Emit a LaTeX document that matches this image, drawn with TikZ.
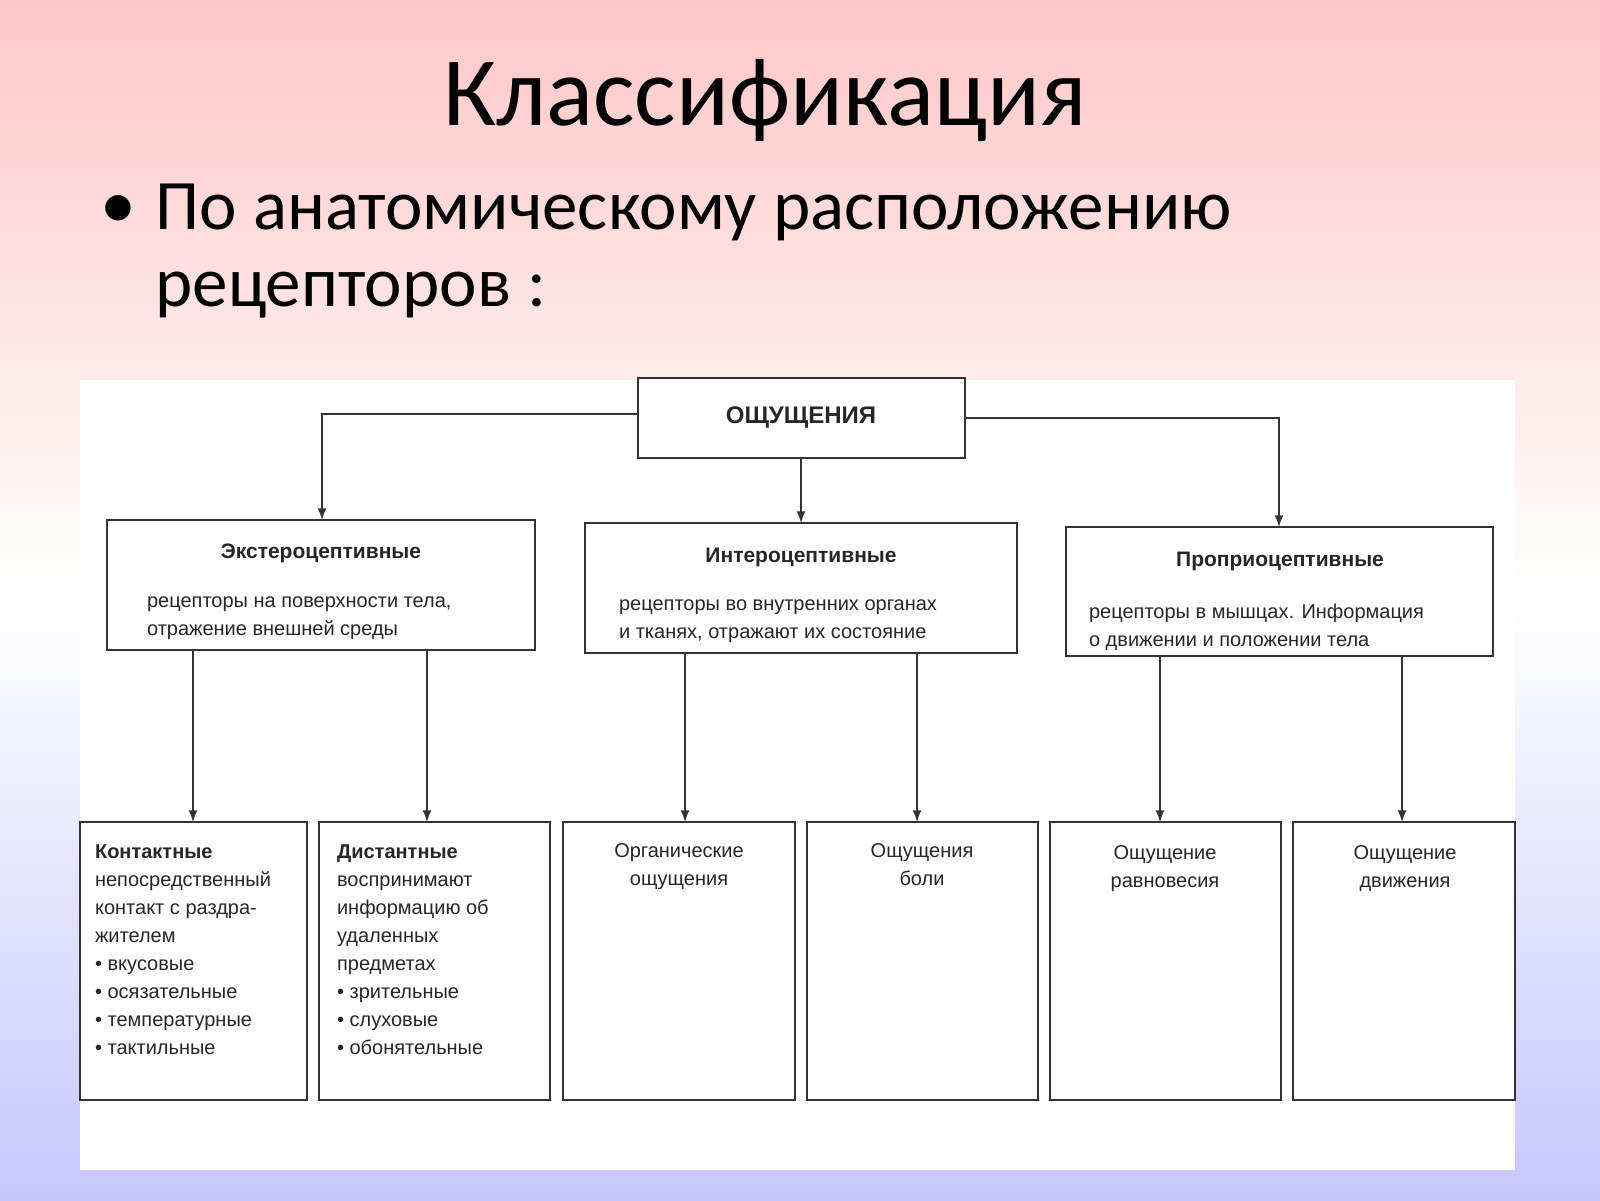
\documentclass[tikz,border=0pt]{standalone}
\usepackage{fontspec}
\setmainfont{Carlito}
\newfontfamily\dia{Liberation Sans}
\begin{document}
\begin{tikzpicture}[x=0.5pt,y=-0.5pt,
 bx/.style={draw=black!80,line width=1.2pt,fill=white},
 ar/.style={draw=black!80,line width=1pt,-latex},
 tt/.style={font=\dia\bfseries\fontsize{10.5}{13}\selectfont,text=black!85},
 tx/.style={font=\dia\fontsize{10}{14}\selectfont,text=black!85,align=left}]
\useasboundingbox (0,0) rectangle (1600,1200);
\shade[top color=red!22!white,bottom color=blue!22!white,middle color=white] (0,0) rectangle (1600,1200);
\fill[white] (80,380) rectangle (1515,1170);
\node (title) at (765,100) {\fontsize{49}{56}\selectfont Классификация};
\node (bul) at (118,212) {\fontsize{36}{40}\selectfont •};
\node[anchor=west,inner sep=0pt] (b1) at (155,212) {\fontsize{35.5}{40}\selectfont По анатомическому расположению};
\node[anchor=west,inner sep=0pt] (b2) at (155,295) {\fontsize{35.5}{40}\selectfont рецепторов :};
% top
\draw[bx] (638,378) rectangle (965,458); \node[tt,font=\dia\bfseries\fontsize{12}{14}\selectfont] (top) at (801,418) {ОЩУЩЕНИЯ};
\draw[bx] (107,520) rectangle (535,650);
\node[tt] (e) at (321,553) {Экстероцептивные};
\node[tx,anchor=north west] (et) at (140,590) {рецепторы на поверхности тела,\\отражение внешней среды};
\draw[bx] (585,523) rectangle (1017,653);
\node[tt] (i) at (801,557) {Интероцептивные};
\node[tx,anchor=north west] (it) at (612,593) {рецепторы во внутренних органах\\и тканях, отражают их состояние};
\draw[bx] (1066,527) rectangle (1493,656);
\node[tt] (p) at (1280,561) {Проприоцептивные};
\node[tx,anchor=north west] (pt) at (1082,597) {рецепторы в мышцах. Информация\\о движении и положении тела};
\coordinate (tl) at (638,414); \coordinate (tr) at (965,418);
\coordinate (c1) at (322,414); \coordinate (c2) at (1279,418);
\draw[ar] (tl) -- (c1) -- (322,520);
\draw[ar] (tr) -- (c2) -- (1279,527);
\draw[ar] (801,458) -- (801,523);
% bottom boxes
\foreach \a/\b in {80/307,319/550,563/795,807/1038,1050/1281,1293/1515}
 \draw[bx] (\a,822) rectangle (\b,1100);
\draw[ar] (193,650) -- (193,822);
\draw[ar] (427,650) -- (427,822);
\draw[ar] (685,653) -- (685,822);
\draw[ar] (917,653) -- (917,822);
\draw[ar] (1160,656) -- (1160,822);
\draw[ar] (1402,656) -- (1402,822);
\node[tx,anchor=north west] (k) at (88,838) {\textbf{Контактные}\\непосредственный\\контакт с раздра-\\жителем\\• вкусовые\\• осязательные\\• температурные\\• тактильные};
\node[tx,anchor=north west] (d) at (330,838) {\textbf{Дистантные}\\воспринимают\\информацию об\\удаленных\\предметах\\• зрительные\\• слуховые\\• обонятельные};
\node[tx,align=center,anchor=north] (o) at (679,836) {Органические\\ощущения};
\node[tx,align=center,anchor=north] (bo) at (922,836) {Ощущения\\боли};
\node[tx,align=center,anchor=north] (r) at (1165,838) {Ощущение\\равновесия};
\node[tx,align=center,anchor=north] (dv) at (1405,838) {Ощущение\\движения};
\end{tikzpicture}
\end{document}
